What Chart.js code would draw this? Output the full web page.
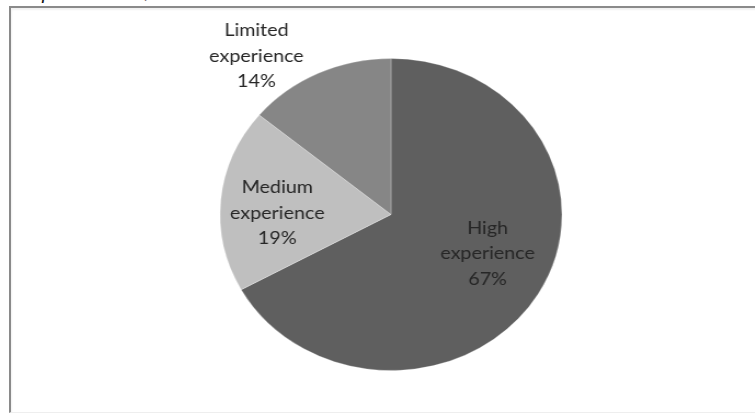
<!DOCTYPE html>
<html>
<head>
<meta charset="utf-8">
<script src="https://cdn.jsdelivr.net/npm/chart.js@4"></script>
<style>
  html, body { margin: 0; padding: 0; background: #fff; overflow: hidden; }
  body { width: 755px; height: 416px; position: relative; }
  #caption {
    position: absolute; left: 0; top: -21px;
    font: italic 21px "Liberation Serif", "DejaVu Serif", serif; color: #111;
    white-space: nowrap;
  }
  #frame {
    position: absolute; left: 9px; top: 6px; width: 760px; height: 404px;
    border-top: 2px solid #8a8a8a; border-left: 2px solid #8a8a8a;
    border-bottom: 1px solid #eee;
    box-shadow: inset 1px 2px 2px rgba(0,0,0,0.06);
  }
  #wrap {
    position: absolute; left: 91px; top: 10px; width: 600px; height: 380px;
    transform: scaleX(1.096); transform-origin: center center;
  }
</style>
</head>
<body>
<div id="caption">ate of a database;</div>
<div id="frame"></div>
<div id="wrap"><canvas id="pieChart"></canvas></div>
<script>
// Slices, clockwise from 12 o'clock
const categories = ['High experience', 'Medium experience', 'Limited experience'];
const shares = [67, 19, 14];
const sliceColors = ['#5f5f5f', '#bfbfbf', '#868686'];

// Label centres relative to the pie centre, in units of the radius
const labelOffsets = [[0.565, 0.25], [-0.665, -0.01], [-0.787, -1.016]];

const sliceLabels = {
  id: 'sliceLabels',
  afterDatasetsDraw(chart) {
    const ctx = chart.ctx;
    const meta = chart.getDatasetMeta(0);
    ctx.save();
    ctx.font = '18px Lato, "Open Sans", sans-serif';
    ctx.fillStyle = '#262626';
    ctx.textAlign = 'center';
    ctx.textBaseline = 'middle';
    meta.data.forEach((arc, i) => {
      const r = arc.outerRadius;
      const cx = arc.x + labelOffsets[i][0] * r;
      const cy = arc.y + labelOffsets[i][1] * r;
      const lines = categories[i].split(' ').concat(shares[i] + '%');
      const step = 25.5;
      lines.forEach((t, k) => {
        ctx.fillText(t, cx, cy + (k - 1) * step);
      });
    });
    ctx.restore();
  }
};

const ctx = document.getElementById('pieChart').getContext('2d');
new Chart(ctx, {
  type: 'pie',
  data: {
    labels: categories,
    datasets: [{
      data: shares,
      backgroundColor: sliceColors,
      borderColor: 'rgba(255,255,255,0.25)',
      borderWidth: 1
    }]
  },
  options: {
    responsive: true,
    maintainAspectRatio: false,
    animation: false,
    layout: { padding: { top: 48, bottom: 19, left: 0, right: 0 } },
    plugins: {
      legend: { display: false },
      tooltip: { enabled: false }
    }
  },
  plugins: [sliceLabels]
});
</script>
</body>
</html>
